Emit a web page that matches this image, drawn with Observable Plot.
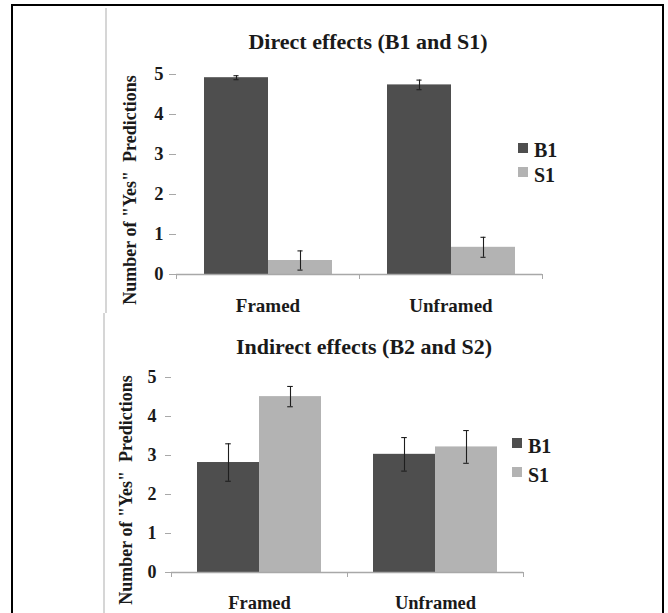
<!DOCTYPE html>
<html><head><meta charset="utf-8">
<script src="https://cdn.jsdelivr.net/npm/d3@7"></script>
<script src="https://cdn.jsdelivr.net/npm/@observablehq/plot@0.6"></script>
<style>
body{margin:0;background:#fff;}
#root{position:relative;width:668px;height:613px;overflow:hidden;background:#fff;font-family:"Liberation Serif","Times New Roman",serif;font-weight:bold;color:#1a1a1a;}
#root svg text{font-family:"Liberation Serif","Times New Roman",serif;font-weight:bold;}
#root svg.topc [aria-label="y-axis tick label"]{font-size:18.5px;}
#root svg.botc [aria-label="y-axis tick label"]{font-size:18px;}
.abs{position:absolute;}
.title{position:absolute;white-space:nowrap;font-size:22px;line-height:22px;transform:translateX(-50%);}
.ylab{position:absolute;white-space:pre;font-size:18px;line-height:18px;transform:translate(-50%,-50%) rotate(-90deg);}
.sw{position:absolute;width:10px;height:10px;}
.lt{position:absolute;font-size:20px;line-height:20px;white-space:nowrap;}
</style></head><body><div id="root"></div>
<script>
// ---- data ----
const groups = ["Framed", "Unframed"];
const series = ["B1", "S1"];
const yTicks = [0, 1, 2, 3, 4, 5];
const seriesColors = ["#4e4e4e", "#b3b3b3"];

const directTitle = "Direct effects (B1 and S1)";
const directB1 = [4.92, 4.74];
const directB1Err = [0.05, 0.12];
const directS1 = [0.35, 0.68];
const directS1Err = [0.24, 0.25];

const indirectTitle = "Indirect effects (B2 and S2)";
const indirectB1 = [2.82, 3.03];
const indirectB1Err = [0.48, 0.43];
const indirectS1 = [4.51, 3.22];
const indirectS1Err = [0.26, 0.42];

const yLabel = 'Number of "Yes"  Predictions';

function rowsOf(b1, b1e, s1, s1e) {
  const out = [];
  groups.forEach((g, i) => {
    out.push({group: g, series: series[0], value: b1[i], err: b1e[i]});
    out.push({group: g, series: series[1], value: s1[i], err: s1e[i]});
  });
  return out;
}

const FONT = '"Liberation Serif","Times New Roman",serif';
const AXIS = "#a8a8a8";
const ERR = "#1e1e1e";

function chart(rows, o) {
  const W = 668;
  const pad = 0.41;
  const fxStep = (W - o.mL - o.mR) / groups.length;
  const bw = fxStep / (series.length + 2 * pad);
  const cap = 6;
  const ins = (bw - cap) / 2;
  return Plot.plot({
    width: W, height: o.height,
    marginLeft: o.mL, marginRight: o.mR, marginTop: o.mT, marginBottom: o.mB,
    className: o.cls,
    style: {fontFamily: FONT, fontWeight: "bold", color: "#1a1a1a", background: "transparent", overflow: "visible"},
    fx: {domain: groups, padding: 0, label: null},
    x: {domain: series, paddingInner: 0, paddingOuter: pad, axis: null},
    y: {domain: [0, 5], axis: null},
    color: {domain: series, range: seriesColors},
    marks: [
      Plot.barY(rows, {fx: "group", x: "series", y: "value", fill: "series"}),
      Plot.ruleY([0], {stroke: AXIS, strokeWidth: 1.3}),
      Plot.ruleX(rows, {fx: "group", x: "series", y1: d => d.value - d.err, y2: d => d.value + d.err, stroke: ERR, strokeWidth: 1.1}),
      Plot.tickY(rows, {fx: "group", x: "series", y: d => d.value + d.err, insetLeft: ins, insetRight: ins, stroke: ERR, strokeWidth: 1.1}),
      Plot.tickY(rows, {fx: "group", x: "series", y: d => d.value - d.err, insetLeft: ins, insetRight: ins, stroke: ERR, strokeWidth: 1.1}),
      Plot.axisY(yTicks, {anchor: "left", tickSize: o.tickSize, tickPadding: o.tickPad, stroke: AXIS, label: null, line: true, fontSize: o.tickFont, fontWeight: "bold", fill: "#1a1a1a"}),
      Plot.axisFx({anchor: "bottom", tickSize: 0, tickPadding: o.xPad, label: null, fontSize: o.xFont, fontWeight: "bold", fill: "#1a1a1a"}),
      Plot.axisFx({anchor: "bottom", tickSize: 5, label: null, fill: "none", stroke: AXIS, dx: -fxStep / 2}),
      Plot.axisFx(groups.slice(-1), {anchor: "bottom", tickSize: 5, label: null, fill: "none", stroke: AXIS, dx: fxStep / 2})
    ]
  });
}

const root = document.getElementById("root");
function el(tag, cls, css, text) {
  const e = document.createElement(tag);
  if (cls) e.className = cls;
  Object.assign(e.style, css);
  if (text != null) e.textContent = text;
  return e;
}

// outer frame
root.appendChild(el("div", "abs", {left: "11px", top: "4px", width: "653px", height: "700px", border: "2px solid #000", boxSizing: "border-box"}));

// top panel
const topPanel = el("div", "abs", {left: "0px", top: "0px", width: "668px", height: "316px", overflow: "hidden"});
root.appendChild(topPanel);
topPanel.appendChild(el("div", "abs", {left: "105px", top: "8px", width: "2px", height: "305px", background: "#d6d6d6"}));
const topChart = chart(rowsOf(directB1, directB1Err, directS1, directS1Err),
  {cls: "topc", height: 316, mL: 176, mR: 126, mT: 74, mB: 42, tickSize: 7, tickPad: 6, tickFont: 18.5, xPad: 23.5, xFont: 19});
topChart.style.position = "absolute"; topChart.style.left = "0px"; topChart.style.top = "0px";
topPanel.appendChild(topChart);
topPanel.appendChild(el("div", "title", {left: "368px", top: "30.5px"}, directTitle));
topPanel.appendChild(el("div", "ylab", {left: "130px", top: "190px"}, yLabel));

// bottom panel
const botPanel = el("div", "abs", {left: "0px", top: "313px", width: "668px", height: "300px", overflow: "hidden"});
root.appendChild(botPanel);
botPanel.appendChild(el("div", "abs", {left: "102.5px", top: "0px", width: "2px", height: "300px", background: "#d6d6d6"}));
const botChart = chart(rowsOf(indirectB1, indirectB1Err, indirectS1, indirectS1Err),
  {cls: "botc", height: 300, mL: 171, mR: 145, mT: 64, mB: 41, tickSize: 6, tickPad: 9, tickFont: 18, xPad: 23, xFont: 18.5});
botChart.style.position = "absolute"; botChart.style.left = "0px"; botChart.style.top = "0px";
botPanel.appendChild(botChart);
botPanel.appendChild(el("div", "title", {left: "364px", top: "22.5px"}, indirectTitle));
botPanel.appendChild(el("div", "ylab", {left: "126px", top: "177px"}, yLabel));

// legends
function legend(parent, x, ys, textX, textTops) {
  series.forEach((s, i) => {
    parent.appendChild(el("div", "sw", {left: x + "px", top: ys[i] + "px", background: seriesColors[i]}));
    parent.appendChild(el("div", "lt", {left: textX + "px", top: textTops[i] + "px"}, s));
  });
}
legend(topPanel, 518, [143, 167], 534, [140, 165]);
legend(botPanel, 512, [438 - 313, 467 - 313], 528, [436 - 313, 465 - 313]);
</script>
</body></html>
